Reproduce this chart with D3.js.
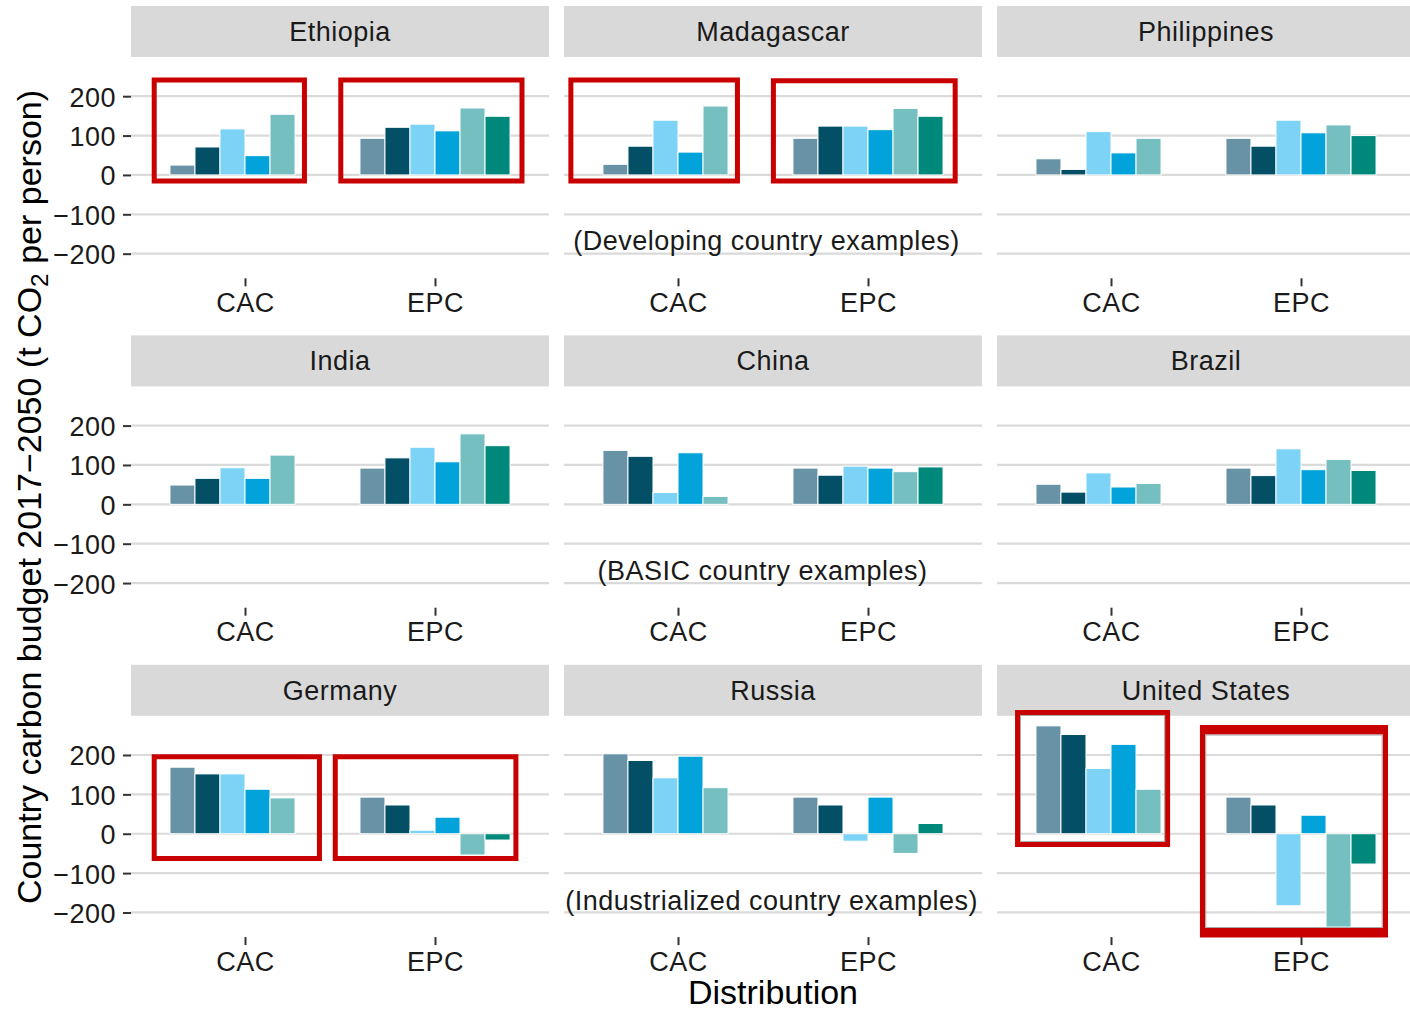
<!DOCTYPE html>
<html>
<head>
<meta charset="utf-8">
<script src="https://cdn.jsdelivr.net/npm/d3@7"></script>
<style>
  html, body { margin: 0; padding: 0; background: #fff; }
  svg { display: block; font-family: "Liberation Sans", Arial, Helvetica, sans-serif; }
</style>
</head>
<body>
<svg id="chart" width="1410" height="1013"></svg>
<script>
// ---- data ---------------------------------------------------------------
const countries = ["Ethiopia", "Madagascar", "Philippines",
                   "India", "China", "Brazil",
                   "Germany", "Russia", "United States"];
const distributions = ["CAC", "EPC"];
const seriesKeys = ["v1", "v2", "v3", "v4", "v5", "v6"];
const seriesColors = ["#6893a7", "#034f66", "#7dd3f6", "#02a3da", "#76bfc0", "#00897a"];

// carbon budget 2017-2050, t CO2 per person (CAC has no sixth variant)
const cacBudgets = [
  [25, 71, 117, 49, 154, null],
  [27, 73, 139, 58, 175, null],
  [41, 14, 110, 56, 93, null],
  [49, 66, 93, 66, 125, null],
  [137, 122, 30, 131, 20, null],
  [51, 31, 80, 44, 53, null],
  [169, 152, 152, 113, 91, null],
  [203, 186, 142, 197, 117, null],
  [274, 252, 166, 227, 113, null]
];
const epcBudgets = [
  [93, 121, 129, 112, 170, 149],
  [93, 124, 124, 115, 169, 149],
  [93, 73, 139, 107, 127, 100],
  [92, 118, 145, 108, 179, 149],
  [92, 74, 97, 92, 83, 95],
  [92, 73, 141, 88, 114, 86],
  [93, 73, 9, 42, -54, -16],
  [93, 73, -19, 93, -50, 26],
  [93, 73, -183, 47, -237, -77]
];
const yTickValues = [-200, -100, 0, 100, 200];

// group captions, anchored in data space (x: CAC = 1, EPC = 2)
const groupCaptions = [
  { country: "Madagascar", text: "(Developing country examples)", x: 1.466, y: -167 },
  { country: "China", text: "(BASIC country examples)", x: 1.445, y: -168 },
  { country: "Russia", text: "(Industrialized country examples)", x: 1.493, y: -168 }
];

// highlight frames, outer bounds in data space
const highlightFrames = [
  { country: "Ethiopia", x0: 0.509, x1: 1.326, y0: -21.8, y1: 247.6 },
  { country: "Ethiopia", x0: 1.491, x1: 2.471, y0: -21.8, y1: 247.6 },
  { country: "Madagascar", x0: 0.423, x1: 1.326, y0: -22, y1: 247.6 },
  { country: "Madagascar", x0: 1.489, x1: 2.472, y0: -22, y1: 245.6 },
  { country: "Germany", x0: 0.509, x1: 1.405, y0: -69, y1: 201.6 },
  { country: "Germany", x0: 1.462, x1: 2.439, y0: -69, y1: 201.6 },
  { country: "United States", x0: 0.495, x1: 1.311, y0: -33.5, y1: 314.4 },
  { country: "United States", x0: 1.468, x1: 2.458, y0: -263.8, y1: 276.3 }
];

// ---- layout -------------------------------------------------------------
const panelW = 418, stripH = 51, panelH = 221.3;
const colLeft = [131, 564, 997];
const rowTop = [6, 335.4, 664.8];
const textFont = 27, titleFont = 34;
const frameRed = "#c80000";
// border thickness per frame (px): [vertical sides, horizontal sides]
const frameBorder = i => (i === 7 ? [5.3, 9.6] : [5, 5]);
const frameHairline = i => i >= 6;

const svg = d3.select("#chart");

// shared scales
const allValues = cacBudgets.flat().concat(epcBudgets.flat()).filter(v => v !== null);
const [vMin, vMax] = d3.extent(allValues);
const pad = (vMax - vMin) * 0.05;
const y = d3.scaleLinear().domain([vMin - pad, vMax + pad]).range([panelH, 0]);

const x = d3.scalePoint().domain(distributions).range([0, panelW]).padding(0.6);
const xUnit = d3.scaleLinear().domain([0.4, 2.6]).range([0, panelW]);
const groupW = (xUnit(2) - xUnit(1)) * 0.79;
const xs = d3.scaleBand().domain(seriesKeys).range([-groupW / 2, groupW / 2]).padding(0);
const color = d3.scaleOrdinal().domain(seriesKeys).range(seriesColors);

const minus = d => (d < 0 ? "\u2212" + Math.abs(d) : String(d));

countries.forEach((country, ci) => {
  const col = ci % 3, row = Math.floor(ci / 3);
  const g = svg.append("g")
    .attr("transform", `translate(${colLeft[col]},${rowTop[row] + stripH})`);

  // strip
  g.append("rect")
    .attr("x", 0).attr("y", -stripH)
    .attr("width", panelW).attr("height", stripH)
    .attr("fill", "#d9d9d9");
  g.append("text")
    .attr("x", panelW / 2).attr("y", -stripH / 2 + 9.4)
    .attr("text-anchor", "middle")
    .attr("font-size", textFont).attr("letter-spacing", 0.5)
    .attr("fill", "#1a1a1a")
    .text(country);

  // horizontal grid
  g.selectAll("line.grid").data(yTickValues).join("line")
    .attr("class", "grid")
    .attr("x1", 0).attr("x2", panelW)
    .attr("y1", d => y(d)).attr("y2", d => y(d))
    .attr("stroke", "#dadada").attr("stroke-width", 2.2);

  // bars
  const recs = [];
  distributions.forEach(dist => {
    const vals = dist === "CAC" ? cacBudgets[ci] : epcBudgets[ci];
    vals.forEach((v, si) => {
      if (v !== null) recs.push({ dist, key: seriesKeys[si], value: v });
    });
  });
  g.selectAll("rect.bar").data(recs).join("rect")
    .attr("class", "bar")
    .attr("x", d => x(d.dist) + xs(d.key))
    .attr("width", xs.bandwidth())
    .attr("y", d => y(Math.max(0, d.value)))
    .attr("height", d => Math.abs(y(d.value) - y(0)))
    .attr("fill", d => color(d.key))
    .attr("stroke", "#ffffff").attr("stroke-width", 1);

  // x axis
  const xAxis = g.append("g")
    .attr("transform", `translate(0,${panelH})`)
    .call(d3.axisBottom(x).tickSize(8).tickPadding(6.5));
  xAxis.select(".domain").remove();
  xAxis.selectAll(".tick line").attr("stroke", "#333").attr("stroke-width", 2);
  xAxis.selectAll(".tick text")
    .attr("font-size", textFont).attr("letter-spacing", 0.5)
    .attr("font-family", null).attr("fill", "#1a1a1a");

  // y axis on the first column
  if (col === 0) {
    const yAxis = g.append("g")
      .call(d3.axisLeft(y).tickValues(yTickValues).tickSize(8).tickPadding(7).tickFormat(minus));
    yAxis.select(".domain").remove();
    yAxis.selectAll(".tick line").attr("stroke", "#333").attr("stroke-width", 2);
    yAxis.selectAll(".tick text")
      .attr("font-size", textFont).attr("letter-spacing", 0.5)
      .attr("font-family", null).attr("fill", "#1a1a1a")
      .attr("dy", "0.37em");
  }

  // group captions
  groupCaptions.filter(c => c.country === country).forEach(c => {
    g.append("text")
      .attr("x", xUnit(c.x)).attr("y", y(c.y) + 0.36 * textFont)
      .attr("text-anchor", "middle")
      .attr("font-size", textFont).attr("letter-spacing", 0.5)
      .attr("fill", "#1a1a1a")
      .text(c.text);
  });
});

// highlight frames drawn on top of everything
highlightFrames.forEach((f, i) => {
  const col = countries.indexOf(f.country) % 3;
  const row = Math.floor(countries.indexOf(f.country) / 3);
  const ox = colLeft[col], oy = rowTop[row] + stripH;
  const L = ox + xUnit(f.x0), R = ox + xUnit(f.x1);
  const T = oy + y(f.y1), B = oy + y(f.y0);
  const [bw, bh] = frameBorder(i);
  const path = d3.path();
  path.rect(L, T, R - L, B - T);
  path.rect(L + bw, T + bh, R - L - 2 * bw, B - T - 2 * bh);
  svg.append("path")
    .attr("d", path.toString())
    .attr("fill", frameRed)
    .attr("fill-rule", "evenodd");
  if (frameHairline(i)) {
    svg.append("rect")
      .attr("x", L + bw + 0.5).attr("y", T + bh + 0.5)
      .attr("width", R - L - 2 * bw - 1).attr("height", B - T - 2 * bh - 1)
      .attr("fill", "none").attr("stroke", "#a8a8a8").attr("stroke-width", 1);
  }
});

// axis titles
const yTitle = svg.append("text")
  .attr("transform", "translate(41,497) rotate(-90)")
  .attr("text-anchor", "middle")
  .attr("font-size", titleFont)
  .attr("fill", "#000");
yTitle.append("tspan").text("Country carbon budget 2017\u22122050 (t CO");
yTitle.append("tspan").attr("font-size", titleFont * 0.72).attr("dy", "0.28em").text("2");
yTitle.append("tspan").attr("dy", "-0.2em").text(" per person)");

svg.append("text")
  .attr("x", (colLeft[0] + colLeft[2] + panelW) / 2).attr("y", 1004)
  .attr("text-anchor", "middle")
  .attr("font-size", titleFont)
  .attr("fill", "#000")
  .text("Distribution");
</script>
</body>
</html>
